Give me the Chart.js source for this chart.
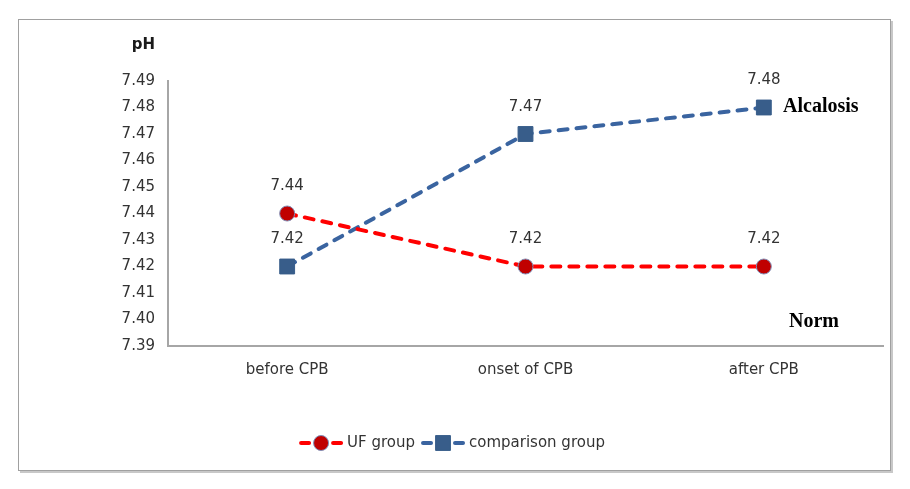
<!DOCTYPE html>
<html lang="en">
<head>
    <meta charset="UTF-8">
    <title>pH chart</title>
    <script src="https://cdn.jsdelivr.net/npm/chart.js"></script>
    <style>
        body { margin: 0; background: #ffffff; }
        #wrap { width: 910px; height: 489px; position: relative; }
    </style>
</head>
<body>
    <div id="wrap"><canvas id="phChart" width="910" height="489"></canvas></div>

    <script>
        // chart data
        const categories = ['before CPB', 'onset of CPB', 'after CPB'];
        const ufGroup = [7.44, 7.42, 7.42];
        const comparisonGroup = [7.42, 7.47, 7.48];
        const seriesNames = ['UF group', 'comparison group'];
        const yMin = 7.39, yMax = 7.49, yStep = 0.01;

        const FONT = '"DejaVu Sans", Verdana, sans-serif';

        // frame, titles, point labels, legend
        const extras = {
            id: 'extras',
            beforeDraw(chart) {
                const ctx = chart.ctx;
                ctx.save();
                ctx.fillStyle = '#ffffff';
                ctx.fillRect(0, 0, chart.width, chart.height);
                // shadow on right/bottom
                ctx.fillStyle = '#c8c8c8';
                ctx.fillRect(891, 21, 2, 452);
                ctx.fillRect(20, 471, 873, 2);
                ctx.strokeStyle = '#a0a0a0';
                ctx.lineWidth = 1;
                ctx.strokeRect(18.5, 19.5, 872, 451);
                ctx.restore();
            },
            afterDatasetsDraw(chart) {
                const ctx = chart.ctx;
                ctx.save();
                // value labels above points
                ctx.font = '15px ' + FONT;
                ctx.fillStyle = '#333333';
                ctx.textAlign = 'center';
                ctx.textBaseline = 'middle';
                chart.data.datasets.forEach((ds, i) => {
                    chart.getDatasetMeta(i).data.forEach((pt, j) => {
                        ctx.fillText(ds.data[j].toFixed(2), pt.x, pt.y - 27);
                    });
                });

                // axis title
                ctx.font = 'bold 15px ' + FONT;
                ctx.fillStyle = '#1a1a1a';
                ctx.textAlign = 'right';
                ctx.textBaseline = 'alphabetic';
                ctx.fillText('pH', 155, 49);

                // zone notes
                ctx.font = 'bold 20px "Liberation Serif", "Times New Roman", serif';
                ctx.fillStyle = '#000000';
                ctx.textAlign = 'left';
                ctx.fillText('Alcalosis', 783, 112);
                ctx.fillText('Norm', 789, 327);

                // legend
                const items = chart.data.datasets;
                ctx.font = '15px ' + FONT;
                const iconW = 44, gap1 = 4, gap2 = 6;
                let total = 0;
                items.forEach((ds, i) => {
                    total += iconW + gap1 + ctx.measureText(ds.label).width + (i < items.length - 1 ? gap2 : 0);
                });
                let x = 452 - total / 2;
                const y = 443;
                items.forEach((ds, i) => {
                    ctx.save();
                    ctx.strokeStyle = ds.borderColor;
                    ctx.lineWidth = ds.borderWidth;
                    ctx.lineCap = 'round';
                    ctx.setLineDash([8, 8]);
                    ctx.beginPath();
                    ctx.moveTo(x + 2, y);
                    ctx.lineTo(x + iconW - 2, y);
                    ctx.stroke();
                    ctx.restore();
                    ctx.fillStyle = ds.pointBackgroundColor;
                    ctx.strokeStyle = ds.pointBorderColor;
                    ctx.lineWidth = 1;
                    ctx.beginPath();
                    if (ds.pointStyle === 'circle') {
                        ctx.arc(x + iconW / 2, y, ds.pointRadius, 0, Math.PI * 2);
                    } else {
                        const s = ds.pointRadius * Math.SQRT1_2;
                        ctx.rect(x + iconW / 2 - s, y - s, 2 * s, 2 * s);
                    }
                    ctx.fill();
                    ctx.stroke();
                    ctx.fillStyle = '#333333';
                    ctx.textAlign = 'left';
                    ctx.textBaseline = 'middle';
                    ctx.fillText(ds.label, x + iconW + gap1, y);
                    x += iconW + gap1 + ctx.measureText(ds.label).width + gap2;
                });
                ctx.restore();
            }
        };

        new Chart(document.getElementById('phChart'), {
            type: 'line',
            data: {
                labels: categories,
                datasets: [{
                    label: seriesNames[0],
                    data: ufGroup,
                    borderColor: '#ff0000',
                    borderWidth: 4,
                    borderDash: [9, 9],
                    borderCapStyle: 'round',
                    pointStyle: 'circle',
                    pointRadius: 7.5,
                    pointBackgroundColor: '#c00000',
                    pointBorderColor: '#7f8fb8',
                    pointBorderWidth: 1,
                    tension: 0
                }, {
                    label: seriesNames[1],
                    data: comparisonGroup,
                    borderColor: '#3a64a0',
                    borderWidth: 4,
                    borderDash: [9, 9],
                    borderCapStyle: 'round',
                    pointStyle: 'rect',
                    pointRadius: 10.5,
                    pointBackgroundColor: '#385d8a',
                    pointBorderColor: '#385d8a',
                    pointBorderWidth: 1,
                    tension: 0
                }]
            },
            options: {
                responsive: false,
                animation: false,
                layout: { padding: { top: 81, right: 27, bottom: 0, left: 0 } },
                plugins: {
                    legend: { display: false },
                    tooltip: { enabled: false }
                },
                scales: {
                    x: {
                        offset: true,
                        grid: { display: false, drawTicks: false },
                        border: { color: '#a6a6a6', width: 2 },
                        ticks: { color: '#333333', font: { family: FONT, size: 15 }, padding: 15, maxRotation: 0 },
                        afterFit(scale) { scale.height = 143; }
                    },
                    y: {
                        min: yMin,
                        max: yMax,
                        grid: { display: false, drawTicks: false },
                        border: { color: '#a6a6a6', width: 2 },
                        ticks: {
                            stepSize: yStep,
                            color: '#333333',
                            font: { family: FONT, size: 15 },
                            padding: 13,
                            callback: v => v.toFixed(2)
                        },
                        afterFit(scale) { scale.width = 168; }
                    }
                }
            },
            plugins: [extras]
        });
    </script>
</body>
</html>
